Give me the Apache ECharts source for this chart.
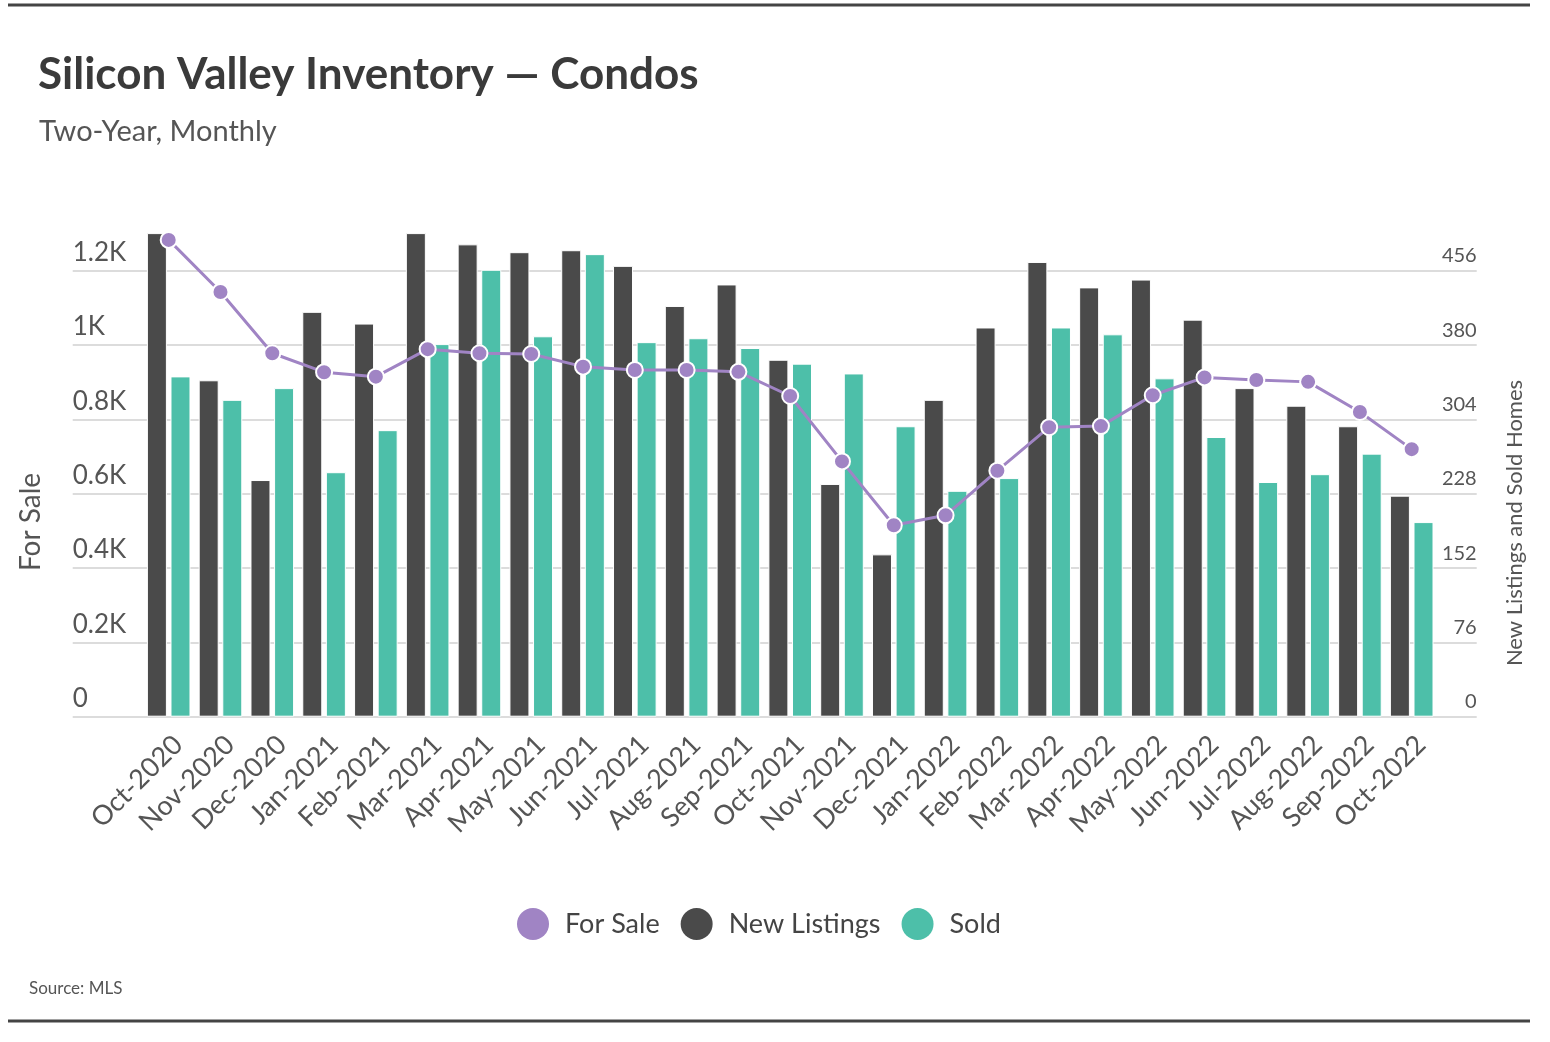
<!DOCTYPE html>
<html>
<head>
<meta charset="utf-8">
<script src="https://cdn.jsdelivr.net/npm/echarts@6/dist/echarts.min.js"></script>
<style>
  html, body { margin: 0; padding: 0; background: #fff; }
  #chart { width: 1550px; height: 1042px; }
</style>
</head>
<body>
<div id="chart"></div>
<script>
const categories = ['Oct-2020','Nov-2020','Dec-2020','Jan-2021','Feb-2021','Mar-2021','Apr-2021','May-2021','Jun-2021','Jul-2021','Aug-2021','Sep-2021','Oct-2021','Nov-2021','Dec-2021','Jan-2022','Feb-2022','Mar-2022','Apr-2022','May-2022','Jun-2022','Jul-2022','Aug-2022','Sep-2022','Oct-2022'];
const forSale = [1283,1143,978,927,915,989,978,976,942,933,933,928,863,687,515,542,662,779,782,865,913,906,901,820,720];
const newListings = [496,344,242,414,402,498,483,475,477,461,420,442,365,238,166,324,398,465,439,447,406,336,318,297,226];
const sold = [348,324,336,250,293,381,457,389,473,383,387,377,361,351,297,231,244,398,391,346,286,240,248,269,199];
const leftAxisMax = 1300, leftAxisStep = 200;
const rightAxisMax = 494, rightAxisStep = 76;

const FONT = 'Lato';
const TXT = '#555555';
const C_SALE = '#a084c4', C_NEW = '#4a4a4a', C_SOLD = '#4dbfa9';

const gridTop = 233.6, gridBottom = 1042 - 716.7;

const chart = echarts.init(document.getElementById('chart'), null, { renderer: 'canvas' });
chart.setOption({
  backgroundColor: '#ffffff',
  animation: false,
  textStyle: { fontFamily: FONT },
  title: [
    { text: 'Silicon Valley Inventory — Condos', left: 33, top: 48,
      textStyle: { fontFamily: FONT, fontSize: 44, fontWeight: 'bold', color: '#3a3a3a' } },
    { text: 'Two-Year, Monthly', left: 34, top: 112,
      textStyle: { fontFamily: FONT, fontSize: 29, fontWeight: 'normal', color: TXT } },
    { text: 'Source: MLS', left: 24, top: 975,
      textStyle: { fontFamily: FONT, fontSize: 17, fontWeight: 'normal', color: TXT } }
  ],
  legend: {
    data: ['For Sale', 'New Listings', 'Sold'],
    left: 512, top: 903,
    icon: 'circle', itemWidth: 32, itemHeight: 32, itemGap: 21,
    itemStyle: { borderWidth: 0 },
    textStyle: { fontFamily: FONT, fontSize: 27, color: '#444', padding: [0, 0, 0, 11] }
  },
  grid: [
    { left: 72.7, right: 1550 - 1476.7, top: gridTop, bottom: gridBottom },
    { left: 142.8, right: 1550 - 1437.6, top: gridTop, bottom: gridBottom }
  ],
  xAxis: [
    { type: 'value', gridIndex: 0, show: false, min: 0, max: 1 },
    { type: 'category', gridIndex: 1, data: categories,
      axisLine: { show: false }, axisTick: { show: false },
      axisLabel: { interval: 0, rotate: 45, margin: 14, verticalAlign: 'top',
        fontFamily: FONT, fontSize: 27, color: TXT } }
  ],
  yAxis: [
    { type: 'value', gridIndex: 0, position: 'left', min: 0, max: leftAxisMax, interval: leftAxisStep,
      axisLine: { show: false }, axisTick: { show: false },
      splitLine: { show: true, showMaxLine: false, lineStyle: { color: '#dcdcdc', width: 2 } },
      axisLabel: { inside: true, margin: 0, align: 'left', verticalAlign: 'bottom', padding: [0, 0, 5, 0],
        showMaxLabel: false, fontFamily: FONT, fontSize: 26, color: TXT,
        formatter: v => v === leftAxisMax ? '' : (v === 0 ? '0' : (v / 1000) + 'K') } },
    { type: 'value', gridIndex: 0, position: 'right', min: 0, max: rightAxisMax, interval: rightAxisStep,
      axisLine: { show: false }, axisTick: { show: false }, splitLine: { show: false },
      axisLabel: { inside: true, margin: 0, align: 'right', verticalAlign: 'bottom', padding: [0, 0, 5, 0],
        showMaxLabel: false, fontFamily: FONT, fontSize: 20, color: TXT,
        formatter: v => v === rightAxisMax ? '' : String(v) } },
    { type: 'value', gridIndex: 1, show: false, min: 0, max: leftAxisMax, interval: leftAxisStep, splitLine: { show: false } },
    { type: 'value', gridIndex: 1, show: false, position: 'right', min: 0, max: rightAxisMax, interval: rightAxisStep, splitLine: { show: false } }
  ],
  series: [
    { name: 'New Listings', type: 'bar', xAxisIndex: 1, yAxisIndex: 3, data: newListings,
      barWidth: 20, barGap: '18%', clip: true,
      itemStyle: { color: C_NEW, borderColor: '#ffffff', borderWidth: 1 } },
    { name: 'Sold', type: 'bar', xAxisIndex: 1, yAxisIndex: 3, data: sold,
      barWidth: 20, barGap: '18%', clip: true,
      itemStyle: { color: C_SOLD, borderColor: '#ffffff', borderWidth: 1 } },
    { name: 'For Sale', type: 'line', xAxisIndex: 1, yAxisIndex: 2, data: forSale, z: 5,
      symbol: 'circle', symbolSize: 16,
      lineStyle: { color: C_SALE, width: 3 },
      itemStyle: { color: C_SALE, borderColor: '#ffffff', borderWidth: 2 } }
  ],
  graphic: [
    { type: 'line', shape: { x1: 8, y1: 5, x2: 1530, y2: 5 }, style: { stroke: '#444', lineWidth: 3 } },
    { type: 'line', shape: { x1: 8, y1: 1021, x2: 1530, y2: 1021 }, style: { stroke: '#444', lineWidth: 3 } },
    { type: 'text', x: 31, y: 522, rotation: Math.PI / 2,
      style: { text: 'For Sale', fontFamily: FONT, fontSize: 28, fill: TXT, align: 'center', verticalAlign: 'middle' } },
    { type: 'text', x: 1515, y: 523, rotation: Math.PI / 2,
      style: { text: 'New Listings and Sold Homes', fontFamily: FONT, fontSize: 22, fill: TXT, align: 'center', verticalAlign: 'middle' } }
  ]
});
</script>
</body>
</html>
